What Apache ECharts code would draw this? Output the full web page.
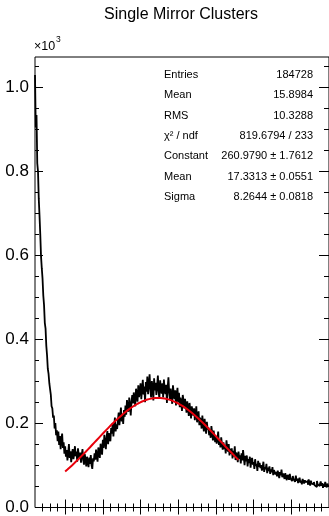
<!DOCTYPE html>
<html>
<head>
<meta charset="utf-8">
<script src="https://cdn.jsdelivr.net/npm/echarts@6/dist/echarts.min.js"></script>
<style>
  html, body { margin: 0; padding: 0; background: #fff; }
  #chart { width: 329px; height: 516px; }
</style>
</head>
<body>
<div id="chart"></div>
<script>
// Histogram: bins of width 0.1 starting at x = 1.0 (one row per unit of x)
const binStart = 1.0;
const binWidth = 0.1;
const counts = [
  1030, 905, 935, 820, 800, 735, 695, 650, 598, 570,
  545, 505, 482, 440, 426, 385, 362, 330, 318, 296,
  282, 268, 241, 236, 214, 219, 188, 201, 172, 184,
  158, 181, 149, 170, 139, 163, 176, 142, 155, 128,
  146, 121, 137, 112, 129, 151, 118, 134, 108, 127,
  139, 115, 128, 146, 122, 133, 109, 141, 125, 118,
  131, 107, 124, 139, 113, 102, 127, 116, 98, 121,
  108, 96, 119, 104, 125, 101, 92, 117, 110, 129,
  114, 138, 122, 109, 143, 131, 118, 152, 137, 126,
  161, 142, 173, 156, 139, 168, 182, 151, 177, 164,
  158, 189, 176, 201, 169, 192, 214, 181, 198, 187,
  209, 226, 196, 218, 238, 205, 221, 199, 232, 216,
  243, 221, 256, 234, 228, 262, 245, 219, 251, 268,
  248, 274, 259, 241, 283, 266, 252, 291, 263, 277,
  296, 258, 281, 304, 269, 288, 251, 299, 276, 312,
  270, 293, 317, 281, 262, 301, 286, 255, 308, 279,
  297, 268, 289, 314, 276, 259, 303, 284, 271, 296,
  262, 305, 281, 270, 292, 249, 286, 310, 274, 258,
  283, 266, 247, 291, 272, 258, 279, 243, 268, 285,
  251, 273, 239, 262, 247, 230, 268, 255, 236, 259,
  244, 226, 253, 237, 218, 249, 231, 212, 241, 227,
  219, 236, 208, 224, 241, 203, 217, 229, 196, 214,
  207, 188, 219, 197, 181, 211, 193, 176, 204, 186,
  191, 172, 185, 166, 194, 177, 160, 183, 169, 156,
  170, 152, 164, 181, 149, 159, 143, 167, 151, 138,
  155, 139, 147, 129, 160, 142, 133, 151, 124, 140,
  128, 141, 117, 135, 122, 146, 113, 131, 125, 108,
  133, 116, 124, 105, 129, 112, 137, 119, 101, 123,
  110, 124, 98, 115, 106, 121, 95, 113, 118, 102,
  108, 92, 115, 99, 104, 87, 111, 97, 106, 94,
  101, 88, 97, 109, 85, 96, 91, 104, 82, 95,
  87, 98, 80, 91, 84, 96, 77, 89, 93, 79,
  85, 74, 88, 79, 70, 84, 77, 90, 72, 81,
  76, 68, 82, 71, 65, 78, 73, 66, 80, 69,
  72, 63, 75, 67, 70, 61, 76, 64, 69, 58,
  66, 71, 59, 64, 55, 68, 62, 57, 65, 60,
  58, 63, 54, 67, 60, 52, 64, 57, 61, 55,
  61, 53, 57, 49, 63, 55, 59, 51, 56, 62,
  52, 58, 47, 56, 50, 61, 53, 48, 57, 51
];

// Gaussian fit parameters and fit range
const fitConstant = 260.9790;
const fitMean = 17.3313;
const fitSigma = 8.2644;
const fitRange = [5, 28];

// Statistics box rows
const statLabels = ['Entries', 'Mean', 'RMS', 'χ² / ndf', 'Constant', 'Mean', 'Sigma'];
const statValues = ['184728', '15.8984', '10.3288', '819.6794 / 233',
  '260.9790 ± 1.7612', '17.3313 ± 0.0551', '8.2644 ± 0.0818'];

// Axis ranges and ticks
const xRange = [1, 40];
const yRange = [0, 1073];
const xMajor = [5, 10, 15, 20, 25, 30, 35];
const yMajor = [0, 200, 400, 600, 800, 1000];

const xMinor = [];
for (let v = 2; v < 40; v++) if (v % 5 !== 0) xMinor.push(v);
const yMinor = [];
for (let v = 50; v < 1073; v += 50) if (v % 200 !== 0) yMinor.push(v);

const histData = counts.map((c, i) => [+(binStart + i * binWidth).toFixed(2), c]);
histData.push([+(binStart + counts.length * binWidth).toFixed(2), counts[counts.length - 1]]);

const fitData = [];
for (let x = fitRange[0]; x <= fitRange[1] + 1e-9; x += 0.1) {
  const z = (x - fitMean) / fitSigma;
  fitData.push([x, fitConstant * Math.exp(-0.5 * z * z)]);
}

const FONT = '"Liberation Sans", Arial, Helvetica, sans-serif';

function tickAxis(kind, position, values, len, labels) {
  const range = kind === 'x' ? xRange : yRange;
  return {
    type: 'value', position: position, min: range[0], max: range[1],
    axisLine: { show: false },
    splitLine: { show: false },
    axisTick: { show: true, inside: true, length: len, customValues: values,
      lineStyle: { color: '#000', width: 1 } },
    axisLabel: labels ? labels : { show: false }
  };
}

const chart = echarts.init(document.getElementById('chart'), null, { renderer: 'canvas' });

const statGraphics = [];
statLabels.forEach((t, i) => {
  const y = 75 + i * 20.3;
  statGraphics.push({ type: 'text', x: 164, y: y,
    style: { text: t, font: '11px ' + FONT, fill: '#000', verticalAlign: 'middle' } });
  statGraphics.push({ type: 'text', x: 313, y: y,
    style: { text: statValues[i], font: '11px ' + FONT, fill: '#000',
      align: 'right', verticalAlign: 'middle' } });
});

chart.setOption({
  animation: false,
  backgroundColor: '#fff',
  grid: { left: 35, top: 57, width: 294.5, height: 453, show: true,
    borderColor: '#000', borderWidth: 1, backgroundColor: '#fff' },
  xAxis: [
    tickAxis('x', 'bottom', xMajor, 8),
    tickAxis('x', 'bottom', xMinor, 4),
    tickAxis('x', 'top', xMajor, 7),
    tickAxis('x', 'top', xMinor, 4)
  ],
  yAxis: [
    tickAxis('y', 'left', yMajor, 8, {
      show: true, customValues: yMajor, margin: 6,
      fontFamily: FONT, fontSize: 17, color: '#000',
      formatter: v => (v / 1000).toFixed(1)
    }),
    tickAxis('y', 'left', yMinor, 4),
    tickAxis('y', 'right', yMajor, 10),
    tickAxis('y', 'right', yMinor, 5)
  ],
  graphic: [
    { type: 'text', x: 181, y: 15,
      style: { text: 'Single Mirror Clusters', font: '16px ' + FONT, fill: '#000',
        align: 'center', verticalAlign: 'middle' } },
    { type: 'text', x: 34, y: 47,
      style: { text: '×10', font: '12.5px ' + FONT, fill: '#000', verticalAlign: 'middle' } },
    { type: 'text', x: 56, y: 40,
      style: { text: '3', font: '8.5px ' + FONT, fill: '#000', verticalAlign: 'middle' } }
  ].concat(statGraphics),
  series: [
    { type: 'line', xAxisIndex: 0, yAxisIndex: 0, data: histData, step: 'end',
      symbol: 'none', lineStyle: { color: '#000', width: 1.8 }, z: 2 },
    { type: 'line', xAxisIndex: 0, yAxisIndex: 0, data: fitData,
      symbol: 'none', lineStyle: { color: '#e8000b', width: 2 }, z: 3 }
  ]
});
</script>
</body>
</html>
